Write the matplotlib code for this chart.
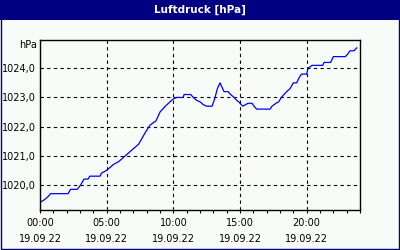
import matplotlib
matplotlib.use("Agg")
import matplotlib.pyplot as plt
from matplotlib.patches import Rectangle
from matplotlib.ticker import MultipleLocator, FixedLocator

title = "Luftdruck [hPa]"
unit = "hPa"
hours = [0.0, 0.35, 0.6, 0.8, 2.1, 2.3, 2.8, 3.05, 3.3, 3.6, 3.73, 4.5, 4.6, 5.0,
         5.5, 5.9, 6.4, 6.9, 7.4, 7.9, 8.25, 8.7, 9.0, 9.4, 9.75, 10.0, 10.25, 10.75,
         10.8, 11.3, 11.5, 11.75, 12.0, 12.25, 12.5, 12.9, 13.1, 13.3, 13.5, 13.7,
         13.8, 14.1, 14.3, 14.55, 14.75, 14.9, 15.2, 15.4, 15.6, 15.9, 16.05, 16.25,
         17.25, 17.4, 17.7, 17.9, 18.1, 18.5, 18.75, 19.0, 19.25, 19.4, 19.6, 20.0,
         20.1, 20.4, 21.2, 21.3, 21.8, 22.0, 22.9, 23.1, 23.25, 23.55, 23.75]
pressure = [1019.4, 1019.5, 1019.6, 1019.7, 1019.7, 1019.85, 1019.85, 1020.0, 1020.2,
            1020.2, 1020.3, 1020.3, 1020.4, 1020.5, 1020.7, 1020.8, 1021.0, 1021.2,
            1021.4, 1021.8, 1022.05, 1022.2, 1022.5, 1022.7, 1022.85, 1022.95, 1023.0,
            1023.0, 1023.1, 1023.1, 1023.0, 1022.9, 1022.85, 1022.75, 1022.7, 1022.7,
            1022.95, 1023.3, 1023.5, 1023.3, 1023.2, 1023.2, 1023.1, 1023.0, 1022.9,
            1022.85, 1022.7, 1022.75, 1022.8, 1022.8, 1022.7, 1022.6, 1022.6, 1022.7,
            1022.8, 1022.85, 1023.0, 1023.2, 1023.3, 1023.5, 1023.5, 1023.65, 1023.8,
            1023.8, 1024.0, 1024.1, 1024.1, 1024.2, 1024.2, 1024.4, 1024.4, 1024.5,
            1024.6, 1024.6, 1024.7]
xtick_pos = [0, 5, 10, 15, 20]
xtick_labels = ["00:00\n19.09.22", "05:00\n19.09.22", "10:00\n19.09.22",
                "15:00\n19.09.22", "20:00\n19.09.22"]
ytick_pos = [1020, 1021, 1022, 1023, 1024]
ytick_labels = ["1020,0", "1021,0", "1022,0", "1023,0", "1024,0"]

bg = "#F8FCF8"
navy = "#000080"

fig = plt.figure(figsize=(4, 2.5), dpi=100, facecolor=bg)
# title bar
fig.patches.append(Rectangle((0, 230/250), 1, 20/250, transform=fig.transFigure,
                             facecolor=navy, edgecolor="none", zorder=0))
fig.patches.append(Rectangle((0.0015, 0.003), 0.996, 0.994, transform=fig.transFigure,
                             facecolor="none", edgecolor=navy, lw=1.0, zorder=1))
fig.text(0.5, 240/250, title, color="white", fontsize=7.5, fontweight="bold",
         ha="center", va="center")

ax = fig.add_axes([0.1, 0.16, 0.8, 0.68], facecolor=bg)
ax.plot(hours, pressure, color="#0000FF", lw=0.9)
ax.set_xlim(0, 24)
ax.set_ylim(1019.14, 1024.97)
ax.xaxis.set_major_locator(FixedLocator(xtick_pos))
ax.set_xticklabels(xtick_labels, fontsize=7, linespacing=1.75)
ax.xaxis.set_minor_locator(MultipleLocator(1))
ax.yaxis.set_major_locator(FixedLocator(ytick_pos))
ax.set_yticklabels(ytick_labels, fontsize=7)
ax.tick_params(axis="x", which="both", direction="out", length=2.5, width=0.8, pad=3)
ax.tick_params(axis="y", which="both", length=0, pad=3)
ax.grid(True, which="major", color="black", linestyle=(0, (3, 3)), lw=0.8)
for s in ax.spines.values():
    s.set_color("black")
    s.set_linewidth(1.0)
fig.text(37/400, 1 - 45/250, unit, fontsize=7, ha="right", va="center")

fig.savefig("out.png", dpi=100, facecolor=bg)
